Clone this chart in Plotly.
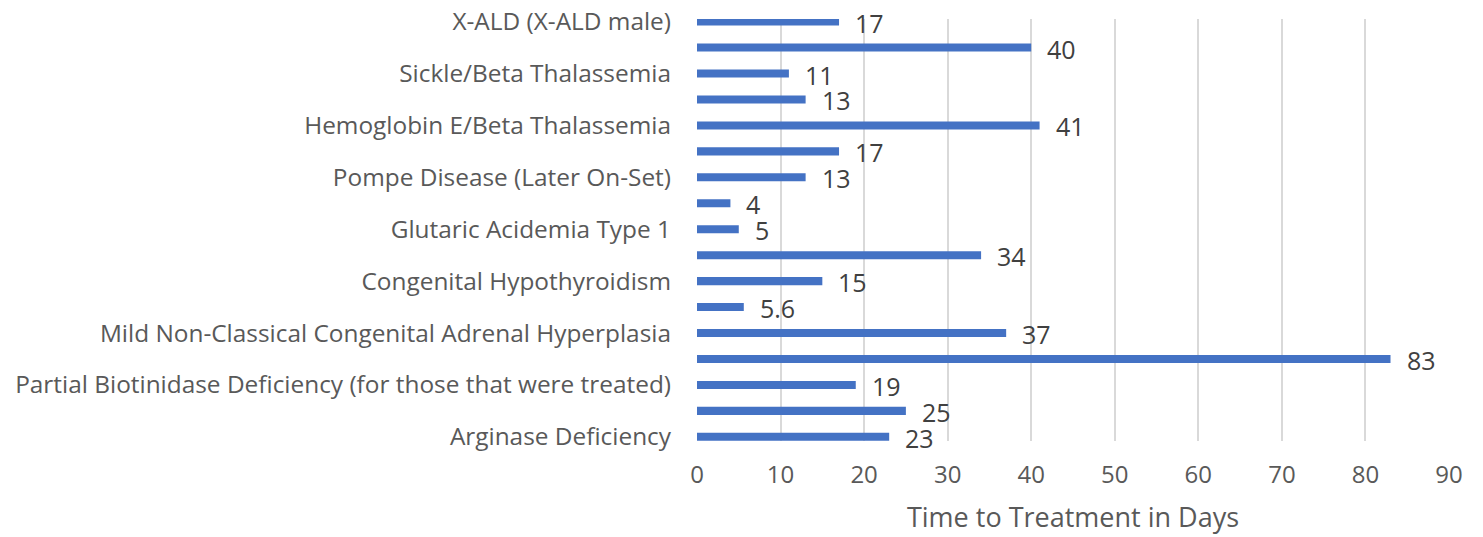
import plotly.graph_objects as go

# bottom to top
labels = [
    "Arginase Deficiency", "",
    "Partial Biotinidase Deficiency (for those that were treated)", "",
    "Mild Non-Classical Congenital Adrenal Hyperplasia", "",
    "Congenital Hypothyroidism", "",
    "Glutaric Acidemia Type 1", "",
    "Pompe Disease (Later On-Set)", "",
    "Hemoglobin E/Beta Thalassemia", "",
    "Sickle/Beta Thalassemia", "",
    "X-ALD (X-ALD male)",
]
values = [23, 25, 19, 83, 37, 5.6, 15, 34, 5, 4, 13, 17, 41, 13, 11, 40, 17]
x_ticks = [0, 10, 20, 30, 40, 50, 60, 70, 80, 90]

pos = list(range(len(values)))
tick_pos = [p for p, l in zip(pos, labels) if l]
tick_txt = [l for l in labels if l]

FONT = "'Open Sans', sans-serif"

fig = go.Figure()
fig.add_trace(go.Bar(
    x=values, y=pos, orientation="h", width=0.31,
    marker=dict(color="#4472C4", line=dict(width=0)),
    hoverinfo="x",
))
for p, v in zip(pos, values):
    fig.add_annotation(x=v, y=p, text=str(v), showarrow=False, xanchor="left",
                       xshift=14, yshift=-1, font=dict(family=FONT, size=25, color="#404040"))

fig.update_layout(
    width=1475, height=529,
    margin=dict(l=689, r=34, t=11, b=96),
    plot_bgcolor="white", paper_bgcolor="white",
    showlegend=False,
    font=dict(family=FONT, size=24, color="#595959"),
    xaxis=dict(range=[0, 90], tickvals=x_ticks, showgrid=True, gridcolor="#d9d9d9", gridwidth=1.5,
               zeroline=False, showline=False, ticks="", automargin=False, ticklabelstandoff=17,
               tickfont=dict(size=24, color="#595959"),
               title=dict(text="Time to Treatment in Days", font=dict(size=27, color="#595959"), standoff=19)),
    yaxis=dict(range=[-0.16, 16.1], tickvals=tick_pos, ticktext=tick_txt, showgrid=False,
               zeroline=False, showline=False, ticks="", automargin=False, ticklabelstandoff=25,
               ticklabeloverflow="allow",
               tickfont=dict(size=24.4, color="#595959")),
)
fig.write_html("out.html")
